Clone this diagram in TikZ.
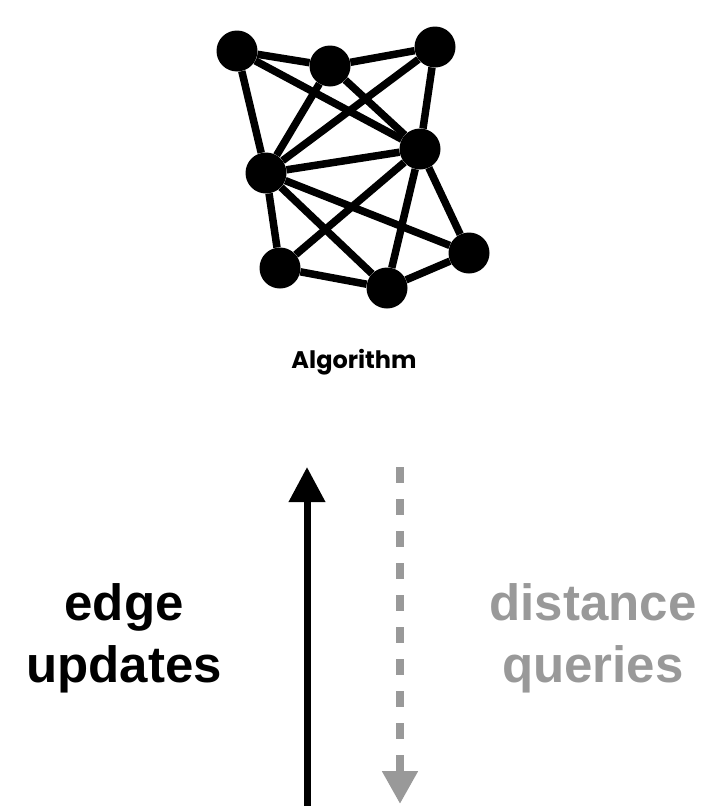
\documentclass[tikz,border=0pt]{standalone}
\usepackage{fontspec}
\setmainfont{Liberation Sans}
\newfontfamily\algofont{Poppins}
\usepackage{xcolor}
\usepackage{tikz}
\usetikzlibrary{arrows.meta}
\definecolor{querygray}{HTML}{999999}

\begin{document}
\begin{tikzpicture}[x=1pt, y=-1pt,
    vertex/.style={circle, fill=black, inner sep=0pt, minimum size=41pt},
    link/.style={line width=7.5pt},
    bigword/.style={font=\fontsize{51}{62}\selectfont\bfseries, align=center, inner sep=0pt}]
\useasboundingbox (0,0) rectangle (705,806);

% the graph
\node[vertex] (a) at (237,51) {};
\node[vertex] (b) at (330,66) {};
\node[vertex] (c) at (435,47) {};
\node[vertex] (d) at (420,149) {};
\node[vertex] (e) at (266,173) {};
\node[vertex] (f) at (469,253) {};
\node[vertex] (g) at (280,268) {};
\node[vertex] (h) at (387,288) {};
\foreach \u/\v in {a/b, b/c, a/e, a/d, b/e, b/d, c/e, c/d, e/d, e/f, e/g, e/h, d/g, d/h, d/f, g/h, h/f}
    \draw[link] (\u) -- (\v);

\node[anchor=base, font=\algofont\fontsize{24}{28}\selectfont\bfseries] (algo) at (354,368) {Algorithm};

% updates go up, queries come down
\coordinate (upbot) at (307,806);
\coordinate (uptop) at (307,467);
\coordinate (qtop) at (400,467);
\coordinate (qbot) at (400,804);
\draw[line width=7pt, -{Triangle[length=35pt, width=35pt]}] (upbot) -- (uptop);
\draw[querygray, line width=8pt, dash pattern=on 16pt off 16pt, -{Triangle[length=33pt, width=34pt]}] (qtop) -- (qbot);

\node[bigword] (upd) at (124,638) {edge\\updates};
\node[bigword, text=querygray] (qry) at (593,638) {distance\\queries};
\end{tikzpicture}
\end{document}
